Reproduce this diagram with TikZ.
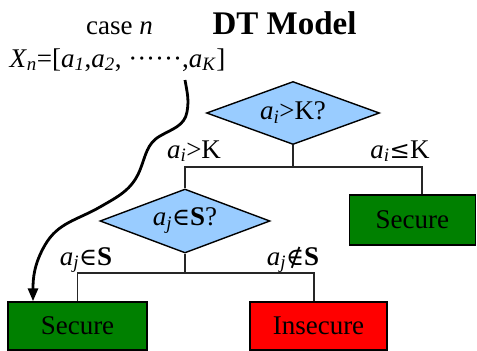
\documentclass[tikz,border=0pt]{standalone}
\usepackage{fontspec}
\setmainfont{Liberation Serif}
\newfontfamily\symf[Scale=0.9]{DejaVu Serif}
\usetikzlibrary{shapes.geometric,arrows.meta}
\definecolor{dblue}{HTML}{99CCFF}
\definecolor{dgreen}{HTML}{008000}
\definecolor{dred}{HTML}{FF0000}
\newcommand{\vv}[2]{\textit{#1}\textsubscript{\textit{#2}}}
\newcommand{\sy}[1]{{\symf #1}}
\tikzset{
  txt/.style={font=\fontsize{27}{30}\selectfont, inner sep=0pt},
  dec/.style={shape=diamond, draw=black, line width=1.4pt, fill=dblue, inner sep=0pt, aspect=2.7, font=\fontsize{27}{30}\selectfont},
  leaf/.style={draw=black, line width=1.4pt, inner sep=0pt, font=\fontsize{27}{30}\selectfont},
  conn/.style={line width=1.1pt, draw=black!85},
  flow/.style={line width=2.8pt, -{Triangle[length=13pt,width=10pt]}}
}
\begin{document}
\begin{tikzpicture}[x=1pt,y=-1pt]
\useasboundingbox (0,0) rectangle (477,351);
% headings
\node[txt, anchor=base] (case) at (119.5,34) {case \textit{n}};
\node[txt, anchor=base, font=\fontsize{33}{36}\selectfont\bfseries] (title) at (284.5,34) {DT Model};
\node[txt, anchor=base] (xn) at (117.5,67) {\vv{X}{n}=[\vv{a}{1},\vv{a}{2}, ······,\vv{a}{K}]};
% decisions
\node[dec, minimum width=173pt, minimum height=63pt] (d1) at (293,113) {\vv{a}{i}>K?};
\node[dec, minimum width=170pt, minimum height=64pt] (d2) at (185,221) {\vv{a}{j}\sy{∈}\textbf{S}?};
% leaves
\node[leaf, fill=dgreen, minimum width=126pt, minimum height=50pt] (sec1) at (412.25,220) {Secure};
\node[leaf, fill=dgreen, minimum width=139pt, minimum height=48pt] (sec2) at (77.5,326) {Secure};
\node[leaf, fill=dred, minimum width=137pt, minimum height=48pt] (ins) at (318.5,326) {Insecure};
% junctions
\coordinate (j1) at (293,167);
\coordinate (j2) at (185,273);
\draw[conn] (d1.south) -- (j1);
\draw[conn] (d2.north) |- (j1) -| ([xshift=9.75pt]sec1.north);
\draw[conn] (d2.south) -- (j2);
\draw[conn] (sec2.north) |- (j2) -| ([xshift=-4.5pt]ins.north);
% edge labels
\node[txt, anchor=base] (l1) at (194,158) {\vv{a}{i}>K};
\node[txt, anchor=base] (l2) at (400,158) {\vv{a}{i}\sy{≤}K};
\node[txt, anchor=base] (l3) at (86,265) {\vv{a}{j}\sy{∈}\textbf{S}};
\node[txt, anchor=base] (l4) at (293,265) {\vv{a}{j}\sy{∉}\textbf{S}};
% flow arrow
\coordinate (fs) at (185,80);
\coordinate (fe) at ([xshift=-44.5pt]sec2.north);
\draw[flow] (fs) to[out=-80,in=80] (187,112) to[out=-100,in=30] (160,136)
  to[out=210,in=68] (140,170) to[out=248,in=30] (100,207)
  to[out=210,in=60] (45,245) to[out=240,in=90] (fe);
\end{tikzpicture}
\end{document}
